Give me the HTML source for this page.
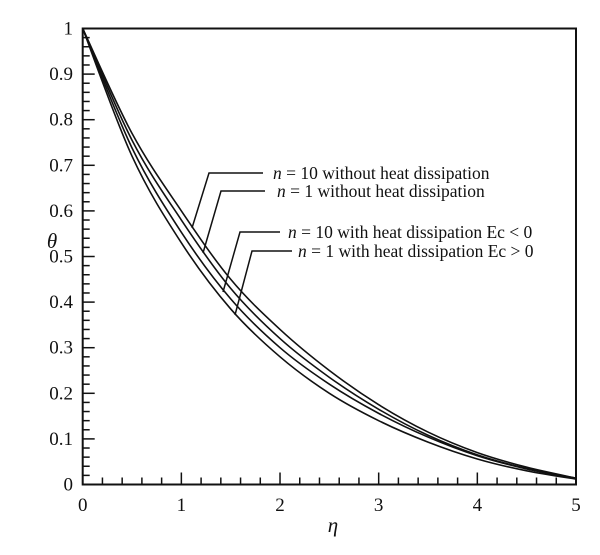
<!DOCTYPE html>
<html><head><meta charset="utf-8"><style>
body{margin:0;background:#fff}
text{font-family:"Liberation Serif",serif;fill:#111}
</style></head><body>
<svg width="600" height="550" viewBox="0 0 600 550" id="svg">
</svg>
<script>
const etaValues=[0,0.5,1,1.5,2,2.5,3,3.5,4,4.5,5];
const seriesN10NoHeat=[1,0.77,0.6,0.45,0.34,0.25,0.175,0.115,0.07,0.038,0.014];
const seriesN1NoHeat=[1,0.755,0.58,0.43,0.32,0.235,0.165,0.108,0.065,0.035,0.014];
const seriesN10Heat=[1,0.738,0.553,0.407,0.3,0.22,0.156,0.104,0.063,0.034,0.013];
const seriesN1Heat=[1,0.72,0.53,0.385,0.28,0.2,0.14,0.093,0.056,0.03,0.012];
const xTicks=[0,1,2,3,4,5];
const yTicks=[0,0.1,0.2,0.3,0.4,0.5,0.6,0.7,0.8,0.9,1];
const X0=82.7,X1=576,Y0=484.5,Y1=28.5;
const sx=v=>X0+(v-0)/5*(X1-X0);
const sy=v=>Y0-(v-0)/1*(Y0-Y1);
const svg=document.getElementById('svg');
const NS='http://www.w3.org/2000/svg';
function mk(tag,attrs,parent){const e=document.createElementNS(NS,tag);for(const k in attrs)e.setAttribute(k,attrs[k]);(parent||svg).appendChild(e);return e;}
const fr=mk('rect',{x:X0,y:Y1,width:X1-X0,height:Y0-Y1,fill:'none',stroke:'#111','stroke-width':2});


const tg=mk('g',{stroke:'#111','stroke-width':1.5});


for(let i=0;i<=25;i++){const v=i*0.2,x=sx(v),L=(i%5===0)?12:7;mk('line',{x1:x,y1:Y0,x2:x,y2:Y0-L},tg);}
for(let i=0;i<=50;i++){const v=i*0.02,y=sy(v),L=(i%5===0)?12:7;mk('line',{x1:X0,y1:y,x2:X0+L,y2:y},tg);}
xTicks.forEach(v=>{const t=mk('text',{x:sx(v),y:511,'text-anchor':'middle','font-size':19});t.textContent=v;
});
yTicks.forEach(v=>{const t=mk('text',{x:73,y:sy(v)+6,'text-anchor':'end','font-size':19});t.textContent=String(v);
});
const xt=mk('text',{x:333,y:532,'text-anchor':'middle','font-size':21,'font-style':'italic'});xt.textContent='η';

const yt=mk('text',{x:52,y:248,'text-anchor':'middle','font-size':21,'font-style':'italic'});yt.textContent='θ';

function path(vals){const p=etaValues.map((e,i)=>[sx(e),sy(vals[i])]);let d='M'+p[0][0]+','+p[0][1];
for(let i=0;i<p.length-1;i++){const a=p[Math.max(0,i-1)],b=p[i],c=p[i+1],n=p[Math.min(p.length-1,i+2)];
const c1=[b[0]+(c[0]-a[0])/6,b[1]+(c[1]-a[1])/6],c2=[c[0]-(n[0]-b[0])/6,c[1]-(n[1]-b[1])/6];
d+=' C'+c1+' '+c2+' '+c;}return d;}
[[seriesN10NoHeat,'curve-n10-without-heat'],[seriesN1NoHeat,'curve-n1-without-heat'],[seriesN10Heat,'curve-n10-with-heat'],[seriesN1Heat,'curve-n1-with-heat']].forEach(([s,n])=>{
const e=mk('path',{d:path(s),fill:'none',stroke:'#111','stroke-width':1.6});
});
const labels=[
['n','= 10 without heat dissipation',[[263,173],[209,173],[192,228]],273,179],
['n','= 1 without heat dissipation',[[265,191],[221,191],[203,253]],277,197],
['n','= 10 with heat dissipation Ec < 0',[[280,232],[240,232],[223,292]],288,238],
['n','= 1 with heat dissipation Ec > 0',[[292,251],[252,251],[235,315]],298,257]];
labels.forEach(([it,rest,pts,tx,ty],i)=>{
const pl=mk('polyline',{points:pts.map(p=>p.join(',')).join(' '),fill:'none',stroke:'#111','stroke-width':1.5});

const t=mk('text',{x:tx,y:ty,'font-size':17.5});

const a=mk('tspan',{'font-style':'italic'},t);a.textContent=it+' ';
const b=mk('tspan',{},t);b.textContent=rest;});
</script>
</body></html>
